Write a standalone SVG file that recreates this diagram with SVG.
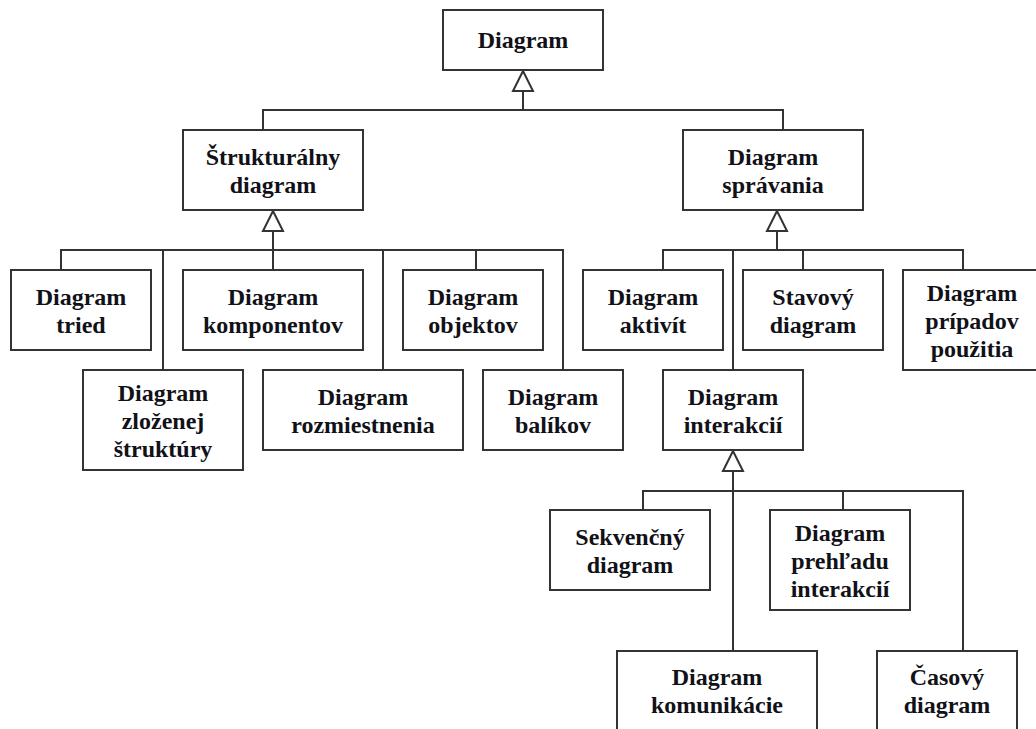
<svg xmlns="http://www.w3.org/2000/svg" width="1036" height="729" viewBox="0 0 1036 729">
  <style>
    .box { fill: #ffffff; stroke: #333333; stroke-width: 2; }
    .wire { fill: none; stroke: #333333; stroke-width: 2; }
    .gen { fill: #ffffff; stroke: #333333; stroke-width: 2; stroke-linejoin: miter; }
    .lbl { fill: #111118; text-anchor: middle; }
  </style>
  <rect x="0" y="0" width="1036" height="729" fill="#ffffff"/>

  <!-- generalisation connectors -->
  <g id="connectors">
    <!-- Diagram -> level 1 -->
    <path class="wire" d="M523 91 V110 M263 130 V110 H783 V130"/>
    <polygon class="gen" points="523,71 513,91 533,91"/>

    <!-- Štrukturálny diagram -> children -->
    <path class="wire" d="M273 231 V250 M61 270 V250 H563 V370 M163 250 V370 M273 250 V270 M383 250 V370 M476 250 V270"/>
    <polygon class="gen" points="273,211 263,231 283,231"/>

    <!-- Diagram správania -> children -->
    <path class="wire" d="M777 231 V250 M663 270 V250 H963 V270 M733 250 V370 M803 250 V270"/>
    <polygon class="gen" points="777,211 767,231 787,231"/>

    <!-- Diagram interakcií -> children -->
    <path class="wire" d="M733 471 V651 M643 510 V491 H963 V651 M843 491 V510"/>
    <polygon class="gen" points="733,451 723,471 743,471"/>
  </g>

  <g id="nodes" font-family="Liberation Serif" font-weight="bold" font-size="24">
  <g id="n-diagram">
    <rect class="box" x="443" y="10" width="160" height="60"/>
    <text class="lbl" x="523" y="48">Diagram</text>
  </g>

  <g id="n-strukturalny">
    <rect class="box" x="183" y="130" width="180" height="80"/>
    <text class="lbl" x="273" y="165">Štrukturálny<tspan x="273" dy="28">diagram</tspan></text>
  </g>

  <g id="n-spravania">
    <rect class="box" x="683" y="130" width="180" height="80"/>
    <text class="lbl" x="773" y="165">Diagram<tspan x="773" dy="28">správania</tspan></text>
  </g>

  <g id="n-tried">
    <rect class="box" x="11" y="270" width="140" height="80"/>
    <text class="lbl" x="81" y="305">Diagram<tspan x="81" dy="28">tried</tspan></text>
  </g>

  <g id="n-zlozenej">
    <rect class="box" x="83" y="370" width="160" height="100"/>
    <text class="lbl" x="163" y="401">Diagram<tspan x="163" dy="28">zloženej</tspan><tspan x="163" dy="28">štruktúry</tspan></text>
  </g>

  <g id="n-komponentov">
    <rect class="box" x="183" y="270" width="180" height="80"/>
    <text class="lbl" x="273" y="305">Diagram<tspan x="273" dy="28">komponentov</tspan></text>
  </g>

  <g id="n-rozmiestnenia">
    <rect class="box" x="263" y="370" width="200" height="80"/>
    <text class="lbl" x="363" y="405">Diagram<tspan x="363" dy="28">rozmiestnenia</tspan></text>
  </g>

  <g id="n-objektov">
    <rect class="box" x="403" y="270" width="140" height="80"/>
    <text class="lbl" x="473" y="305">Diagram<tspan x="473" dy="28">objektov</tspan></text>
  </g>

  <g id="n-balikov">
    <rect class="box" x="483" y="370" width="140" height="80"/>
    <text class="lbl" x="553" y="405">Diagram<tspan x="553" dy="28">balíkov</tspan></text>
  </g>

  <g id="n-aktivit">
    <rect class="box" x="583" y="270" width="140" height="80"/>
    <text class="lbl" x="653" y="305">Diagram<tspan x="653" dy="28">aktivít</tspan></text>
  </g>

  <g id="n-stavovy">
    <rect class="box" x="743" y="270" width="140" height="80"/>
    <text class="lbl" x="813" y="305">Stavový<tspan x="813" dy="28">diagram</tspan></text>
  </g>

  <g id="n-pripadov">
    <rect class="box" x="903" y="270" width="138" height="100"/>
    <text class="lbl" x="972" y="301">Diagram<tspan x="972" dy="28">prípadov</tspan><tspan x="972" dy="28">použitia</tspan></text>
  </g>

  <g id="n-interakcii">
    <rect class="box" x="663" y="370" width="140" height="80"/>
    <text class="lbl" x="733" y="405">Diagram<tspan x="733" dy="28">interakcií</tspan></text>
  </g>

  <g id="n-sekvencny">
    <rect class="box" x="550" y="510" width="160" height="80"/>
    <text class="lbl" x="630" y="545">Sekvenčný<tspan x="630" dy="28">diagram</tspan></text>
  </g>

  <g id="n-prehladu">
    <rect class="box" x="770" y="510" width="140" height="100"/>
    <text class="lbl" x="840" y="541">Diagram<tspan x="840" dy="28">prehľadu</tspan><tspan x="840" dy="28">interakcií</tspan></text>
  </g>

  <g id="n-komunikacie">
    <rect class="box" x="617" y="651" width="200" height="80"/>
    <text class="lbl" x="717" y="685">Diagram<tspan x="717" dy="28">komunikácie</tspan></text>
  </g>

  <g id="n-casovy">
    <rect class="box" x="877" y="651" width="140" height="80"/>
    <text class="lbl" x="947" y="685">Časový<tspan x="947" dy="28">diagram</tspan></text>
  </g>
  </g>
</svg>
